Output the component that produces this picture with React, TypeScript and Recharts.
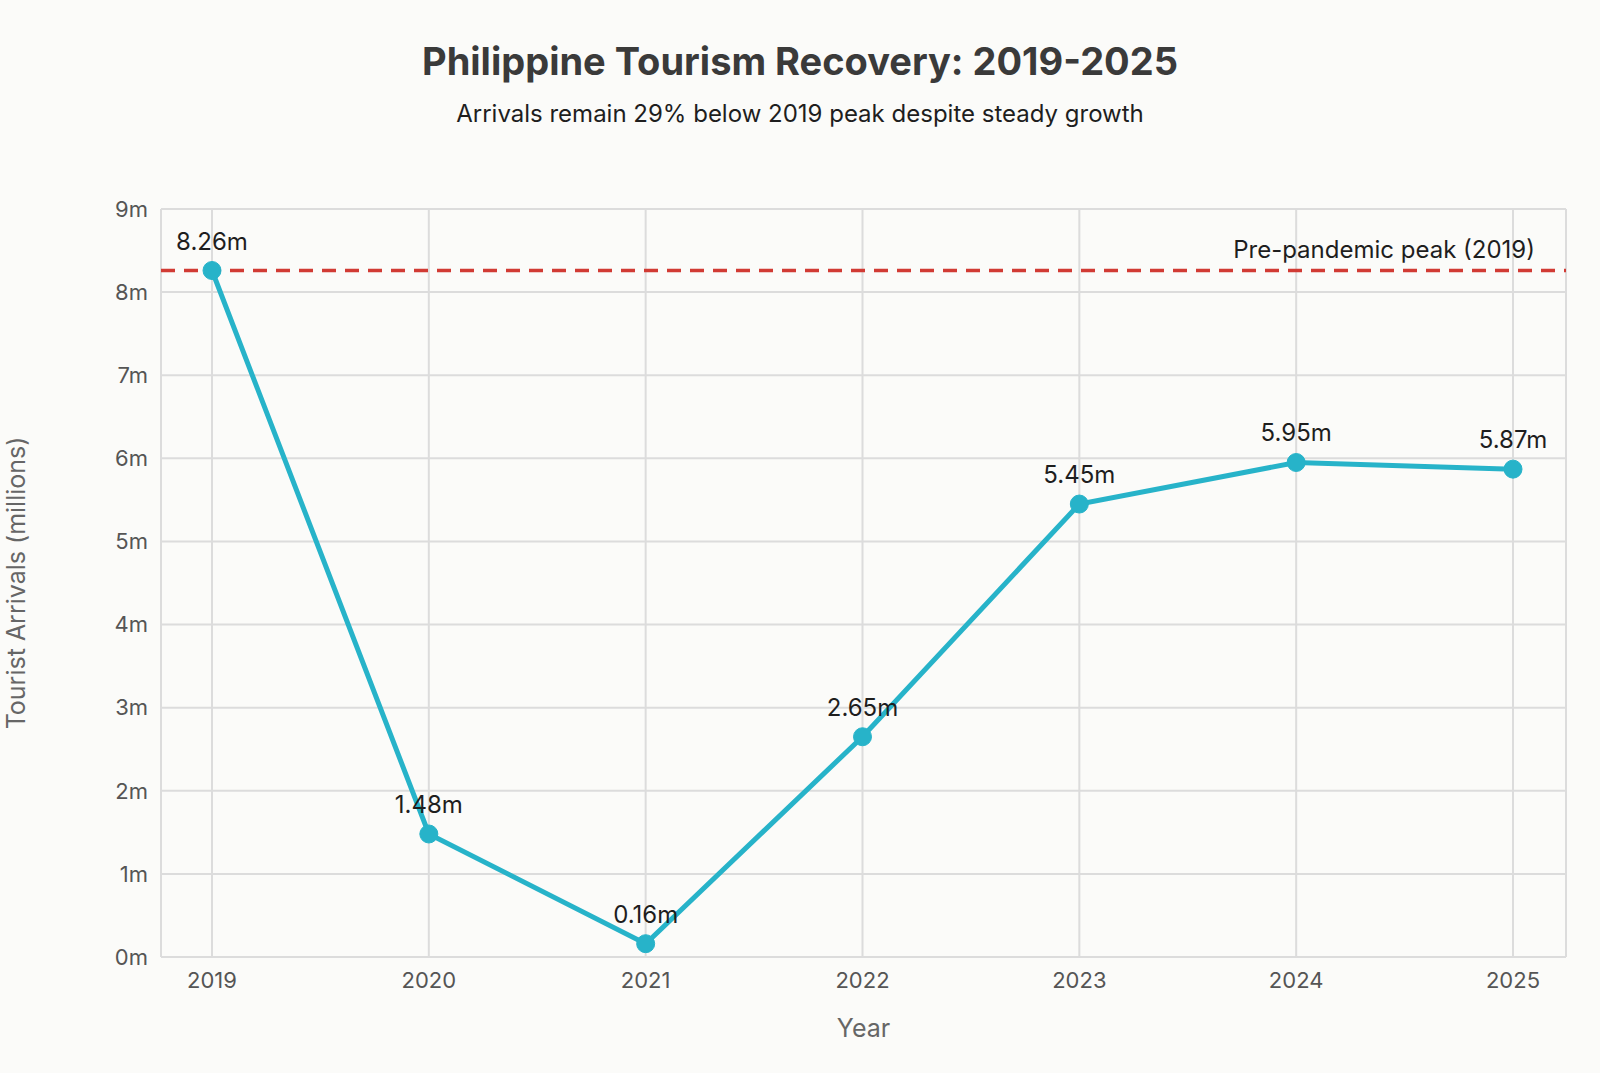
import React from 'react'
import {
  LineChart,
  Line,
  XAxis,
  YAxis,
  CartesianGrid,
  ReferenceLine,
  LabelList,
} from 'recharts'

const years = ['2019', '2020', '2021', '2022', '2023', '2024', '2025']
const arrivals = [8.26, 1.48, 0.16, 2.65, 5.45, 5.95, 5.87]
const yTicks = [0, 1, 2, 3, 4, 5, 6, 7, 8, 9]
const peak = 8.26

const data = years.map((year, i) => ({ year, arrivals: arrivals[i] }))

const FONT = 'Inter, "Noto Sans", sans-serif'
const LINE_COLOR = '#27b3c9'
const PEAK_COLOR = '#d13b34'

// label sits above the dashed line, right-aligned near the plot edge
const PeakLabel = ({ viewBox }: any) => {
  if (!viewBox) return null
  return (
    <text
      x={viewBox.x + viewBox.width - 31}
      y={viewBox.y - 13}
      textAnchor="end"
      fill="#1e1e1e"
      fontSize={24}
      fontFamily={FONT}
    >
      Pre-pandemic peak (2019)
    </text>
  )
}

export default function App() {
  return (
    <div
      style={{
        position: 'relative',
        width: 1600,
        height: 1073,
        background: '#fbfbf9',
        fontFamily: FONT,
        overflow: 'hidden',
      }}
    >
      <style>{'body{margin:0}'}</style>
      <div
        style={{
          position: 'absolute',
          top: 38,
          left: 0,
          width: 1600,
          textAlign: 'center',
          fontSize: 38,
          fontWeight: 700,
          color: '#3a3a3a',
        }}
      >
        Philippine Tourism Recovery: 2019-2025
      </div>
      <div
        style={{
          position: 'absolute',
          top: 99,
          left: 0,
          width: 1600,
          textAlign: 'center',
          fontSize: 24,
          color: '#1e1e1e',
        }}
      >
        Arrivals remain 29% below 2019 peak despite steady growth
      </div>
      <LineChart
        width={1600}
        height={1073}
        data={data}
        margin={{ top: 209, right: 34, bottom: 26, left: 0 }}
        style={{ position: 'absolute', top: 0, left: 0 }}
      >
        <CartesianGrid stroke="#dcdcdc" strokeWidth={2} />
        <XAxis
          dataKey="year"
          padding={{ left: 51, right: 53 }}
          axisLine={false}
          tickLine={false}
          height={90}
          tickMargin={9}
          tick={{ fill: '#555', fontSize: 22, fontFamily: FONT }}
          label={{
            value: 'Year',
            position: 'insideBottom',
            offset: 10,
            fill: '#666',
            fontSize: 25,
            fontFamily: FONT,
          }}
        />
        <YAxis
          domain={[0, 9]}
          ticks={yTicks}
          interval={0}
          width={161}
          axisLine={false}
          tickLine={false}
          tickMargin={7}
          tickFormatter={(v) => `${v}m`}
          tick={{ fill: '#555', fontSize: 22, fontFamily: FONT }}
          label={{
            value: 'Tourist Arrivals (millions)',
            angle: -90,
            position: 'insideLeft',
            offset: 16,
            fill: '#666',
            fontSize: 25,
            fontFamily: FONT,
            style: { textAnchor: 'middle' },
          }}
        />
        <ReferenceLine
          y={peak}
          stroke={PEAK_COLOR}
          strokeWidth={3.5}
          strokeDasharray="14 9"
          label={<PeakLabel />}
        />
        <Line
          type="linear"
          dataKey="arrivals"
          stroke={LINE_COLOR}
          strokeWidth={5}
          dot={{ r: 9, fill: LINE_COLOR, stroke: LINE_COLOR, strokeWidth: 1 }}
          isAnimationActive={false}
        >
          <LabelList
            dataKey="arrivals"
            position="top"
            offset={21}
            formatter={(v) => `${v}m`}
            fill="#1e1e1e"
            fontSize={24}
            fontFamily={FONT}
          />
        </Line>
      </LineChart>
    </div>
  )
}
